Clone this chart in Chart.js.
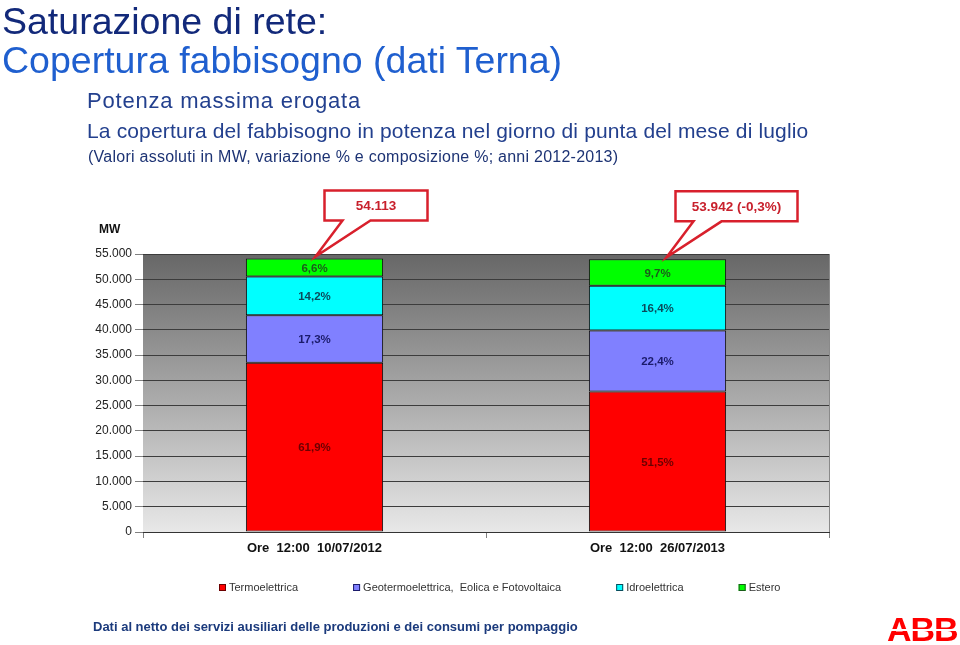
<!DOCTYPE html>
<html>
<head>
<meta charset="utf-8">
<script src="https://cdn.jsdelivr.net/npm/chart.js@4"></script>
<style>
  body { margin: 0; background: #fff; font-family: 'Liberation Sans', Arial, sans-serif; }
  #page { position: relative; width: 960px; height: 645px; overflow: hidden; }
  #page canvas { position: absolute; left: 0; top: 0; }
  .t { position: absolute; white-space: nowrap; line-height: 1; }
  .logo {
    font-weight: bold; font-size: 34px; letter-spacing: -1px;
    background: linear-gradient(#f00 0 50%, #fff 50% 55%, #f00 55%);
    -webkit-background-clip: text; background-clip: text; color: transparent;
  }
</style>
</head>
<body>
<div id="page">
  <canvas id="chart" width="960" height="645"></canvas>
  <div class="t" style="left:2px;top:3px;font-size:37.5px;color:#12297a">Saturazione di rete:</div>
  <div class="t" style="left:2px;top:42px;font-size:37.5px;color:#1f5fcf">Copertura fabbisogno (dati Terna)</div>
  <div class="t" style="left:87px;top:90px;font-size:22px;letter-spacing:0.8px;color:#23408e">Potenza massima erogata</div>
  <div class="t" style="left:87px;top:120px;font-size:21px;letter-spacing:0.15px;color:#23408e">La copertura del fabbisogno in potenza nel giorno di punta del mese di luglio</div>
  <div class="t" style="left:88px;top:149px;font-size:16px;letter-spacing:0.25px;color:#1d3374">(Valori assoluti in MW, variazione % e composizione %; anni 2012-2013)</div>
  <div class="t" style="left:99px;top:223px;font-size:12px;font-weight:bold;color:#111">MW</div>
  <div class="t" style="left:93px;top:620px;font-size:13px;font-weight:bold;color:#1b3a7c">Dati al netto dei servizi ausiliari delle produzioni e dei consumi per pompaggio</div>
  <div class="t logo" style="left:887px;top:612px">ABB</div>
</div>
<script>
Chart.defaults.font.family = "'Liberation Sans', Arial, sans-serif"

// dati (MW)
const categories = ['Ore  12:00  10/07/2012', 'Ore  12:00  26/07/2013']
const termoelettrica = [33496, 27780]
const geotermoelettrica = [9362, 12083]
const idroelettrica = [7684, 8846]
const estero = [3571, 5233]
const yTicks = [0, 5000, 10000, 15000, 20000, 25000, 30000, 35000, 40000, 45000, 50000, 55000]

const series = [termoelettrica, geotermoelettrica, idroelettrica, estero]
const totals = categories.map((c, j) => series.reduce((s, d) => s + d[j], 0))

const labelColors = ['#6b0000', '#1b1b6b', '#0b4b5b', '#1b5b1b']

const fmt = (v) => String(v).replace(/\B(?=(\d{3})+(?!\d))/g, '.')
const pct = (v, d = 1) => v.toFixed(d).replace('.', ',') + '%'

// callout box sizes
const callout = [
  { shift: 1, w: 103 },
  { shift: 9, w: 122 }
]

const decor = {
  id: 'decor',
  beforeDraw (chart) {
    const { ctx, chartArea: a } = chart
    const g = ctx.createLinearGradient(0, a.top, 0, a.bottom)
    g.addColorStop(0, '#676767')
    g.addColorStop(1, '#e8e8e8')
    ctx.save()
    ctx.fillStyle = g
    ctx.fillRect(a.left, a.top, a.right - a.left, a.bottom - a.top)
    ctx.strokeStyle = '#8a8a8a'
    ctx.beginPath()
    ctx.moveTo(a.right + 0.5, a.top)
    ctx.lineTo(a.right + 0.5, a.bottom)
    ctx.stroke()
    ctx.restore()
  },
  afterDatasetsDraw (chart) {
    const { ctx } = chart
    ctx.save()
    ctx.textAlign = 'center'
    ctx.textBaseline = 'middle'
    ctx.font = "bold 11.5px 'Liberation Sans', Arial"
    chart.data.datasets.forEach((ds, i) => {
      chart.getDatasetMeta(i).data.forEach((bar, j) => {
        ctx.fillStyle = labelColors[i]
        ctx.fillText(pct(ds.data[j] / totals[j] * 100), bar.x, (bar.y + bar.base) / 2 + 1)
      })
    })

    // callouts
    const top = chart.getDatasetMeta(series.length - 1).data
    top.forEach((bar, j) => {
      const tx = bar.x + callout[j].shift
      const ty = bar.y - 2
      const L = tx + 9
      const T = ty - 66
      const R = L + callout[j].w
      const B = T + 30
      ctx.beginPath()
      ctx.moveTo(L, T)
      ctx.lineTo(R, T)
      ctx.lineTo(R, B)
      ctx.lineTo(L + 46, B)
      ctx.lineTo(tx, ty)
      ctx.lineTo(L + 18, B)
      ctx.lineTo(L, B)
      ctx.closePath()
      ctx.fillStyle = '#fff'
      ctx.fill()
      ctx.lineWidth = 2.5
      ctx.lineJoin = 'miter'
      ctx.strokeStyle = '#d8202c'
      ctx.stroke()
      let txt = fmt(totals[j])
      if (j > 0) {
        const ch = (totals[j] - totals[0]) / totals[0] * 100
        txt += ' (' + pct(ch) + ')'
      }
      ctx.fillStyle = '#c8202c'
      ctx.font = "bold 13.5px 'Liberation Sans', Arial"
      ctx.fillText(txt, (L + R) / 2, (T + B) / 2 + 1)
    })
    ctx.restore()
  },
  afterDraw (chart) {
    // legenda
    const { ctx } = chart
    ctx.save()
    ctx.font = "11px 'Liberation Sans', Arial"
    ctx.textBaseline = 'middle'
    ctx.textAlign = 'left'
    let x = 219
    chart.data.datasets.forEach((ds, i) => {
      ctx.fillStyle = ds.backgroundColor
      ctx.fillRect(x, 584, 7, 7)
      ctx.strokeStyle = labelColors[i]
      ctx.lineWidth = 1
      ctx.strokeRect(x + 0.5, 584.5, 6, 6)
      ctx.fillStyle = '#333'
      ctx.fillText(ds.label, x + 10, 588)
      x += 10 + ctx.measureText(ds.label).width + 55
    })
    ctx.restore()
  }
}

new Chart(document.getElementById('chart'), {
  type: 'bar',
  data: {
    labels: categories,
    datasets: [
      { label: 'Termoelettrica', data: termoelettrica, backgroundColor: '#ff0000' },
      { label: 'Geotermoelettrica,  Eolica e Fotovoltaica', data: geotermoelettrica, backgroundColor: '#8080ff' },
      { label: 'Idroelettrica', data: idroelettrica, backgroundColor: '#00ffff' },
      { label: 'Estero', data: estero, backgroundColor: '#00ff00' }
    ].map(d => ({ ...d, borderColor: '#111', borderWidth: 1, borderSkipped: false, categoryPercentage: 1, barPercentage: 0.4 }))
  },
  options: {
    responsive: false,
    animation: false,
    layout: { padding: { left: 80, right: 131, top: 254, bottom: 83 } },
    plugins: {
      legend: { display: false },
      tooltip: { enabled: false }
    },
    scales: {
      x: {
        stacked: true,
        grid: { offset: true, drawOnChartArea: false, tickLength: 6, color: '#808080' },
        border: { color: '#333' },
        ticks: { color: '#111', font: { size: 13, weight: 'bold' }, padding: 3 },
        afterFit: (s) => { s.height = 30 }
      },
      y: {
        stacked: true,
        min: 0,
        max: 55000,
        afterBuildTicks: (s) => { s.ticks = yTicks.map(v => ({ value: v })) },
        grid: { color: '#3c3c3c', tickColor: '#808080', tickLength: 8 },
        border: { display: false },
        ticks: { color: '#222', font: { size: 12 }, padding: 3, callback: (v) => fmt(v) },
        afterFit: (s) => { s.width = 63 }
      }
    }
  },
  plugins: [decor]
})
</script>
</body>
</html>
